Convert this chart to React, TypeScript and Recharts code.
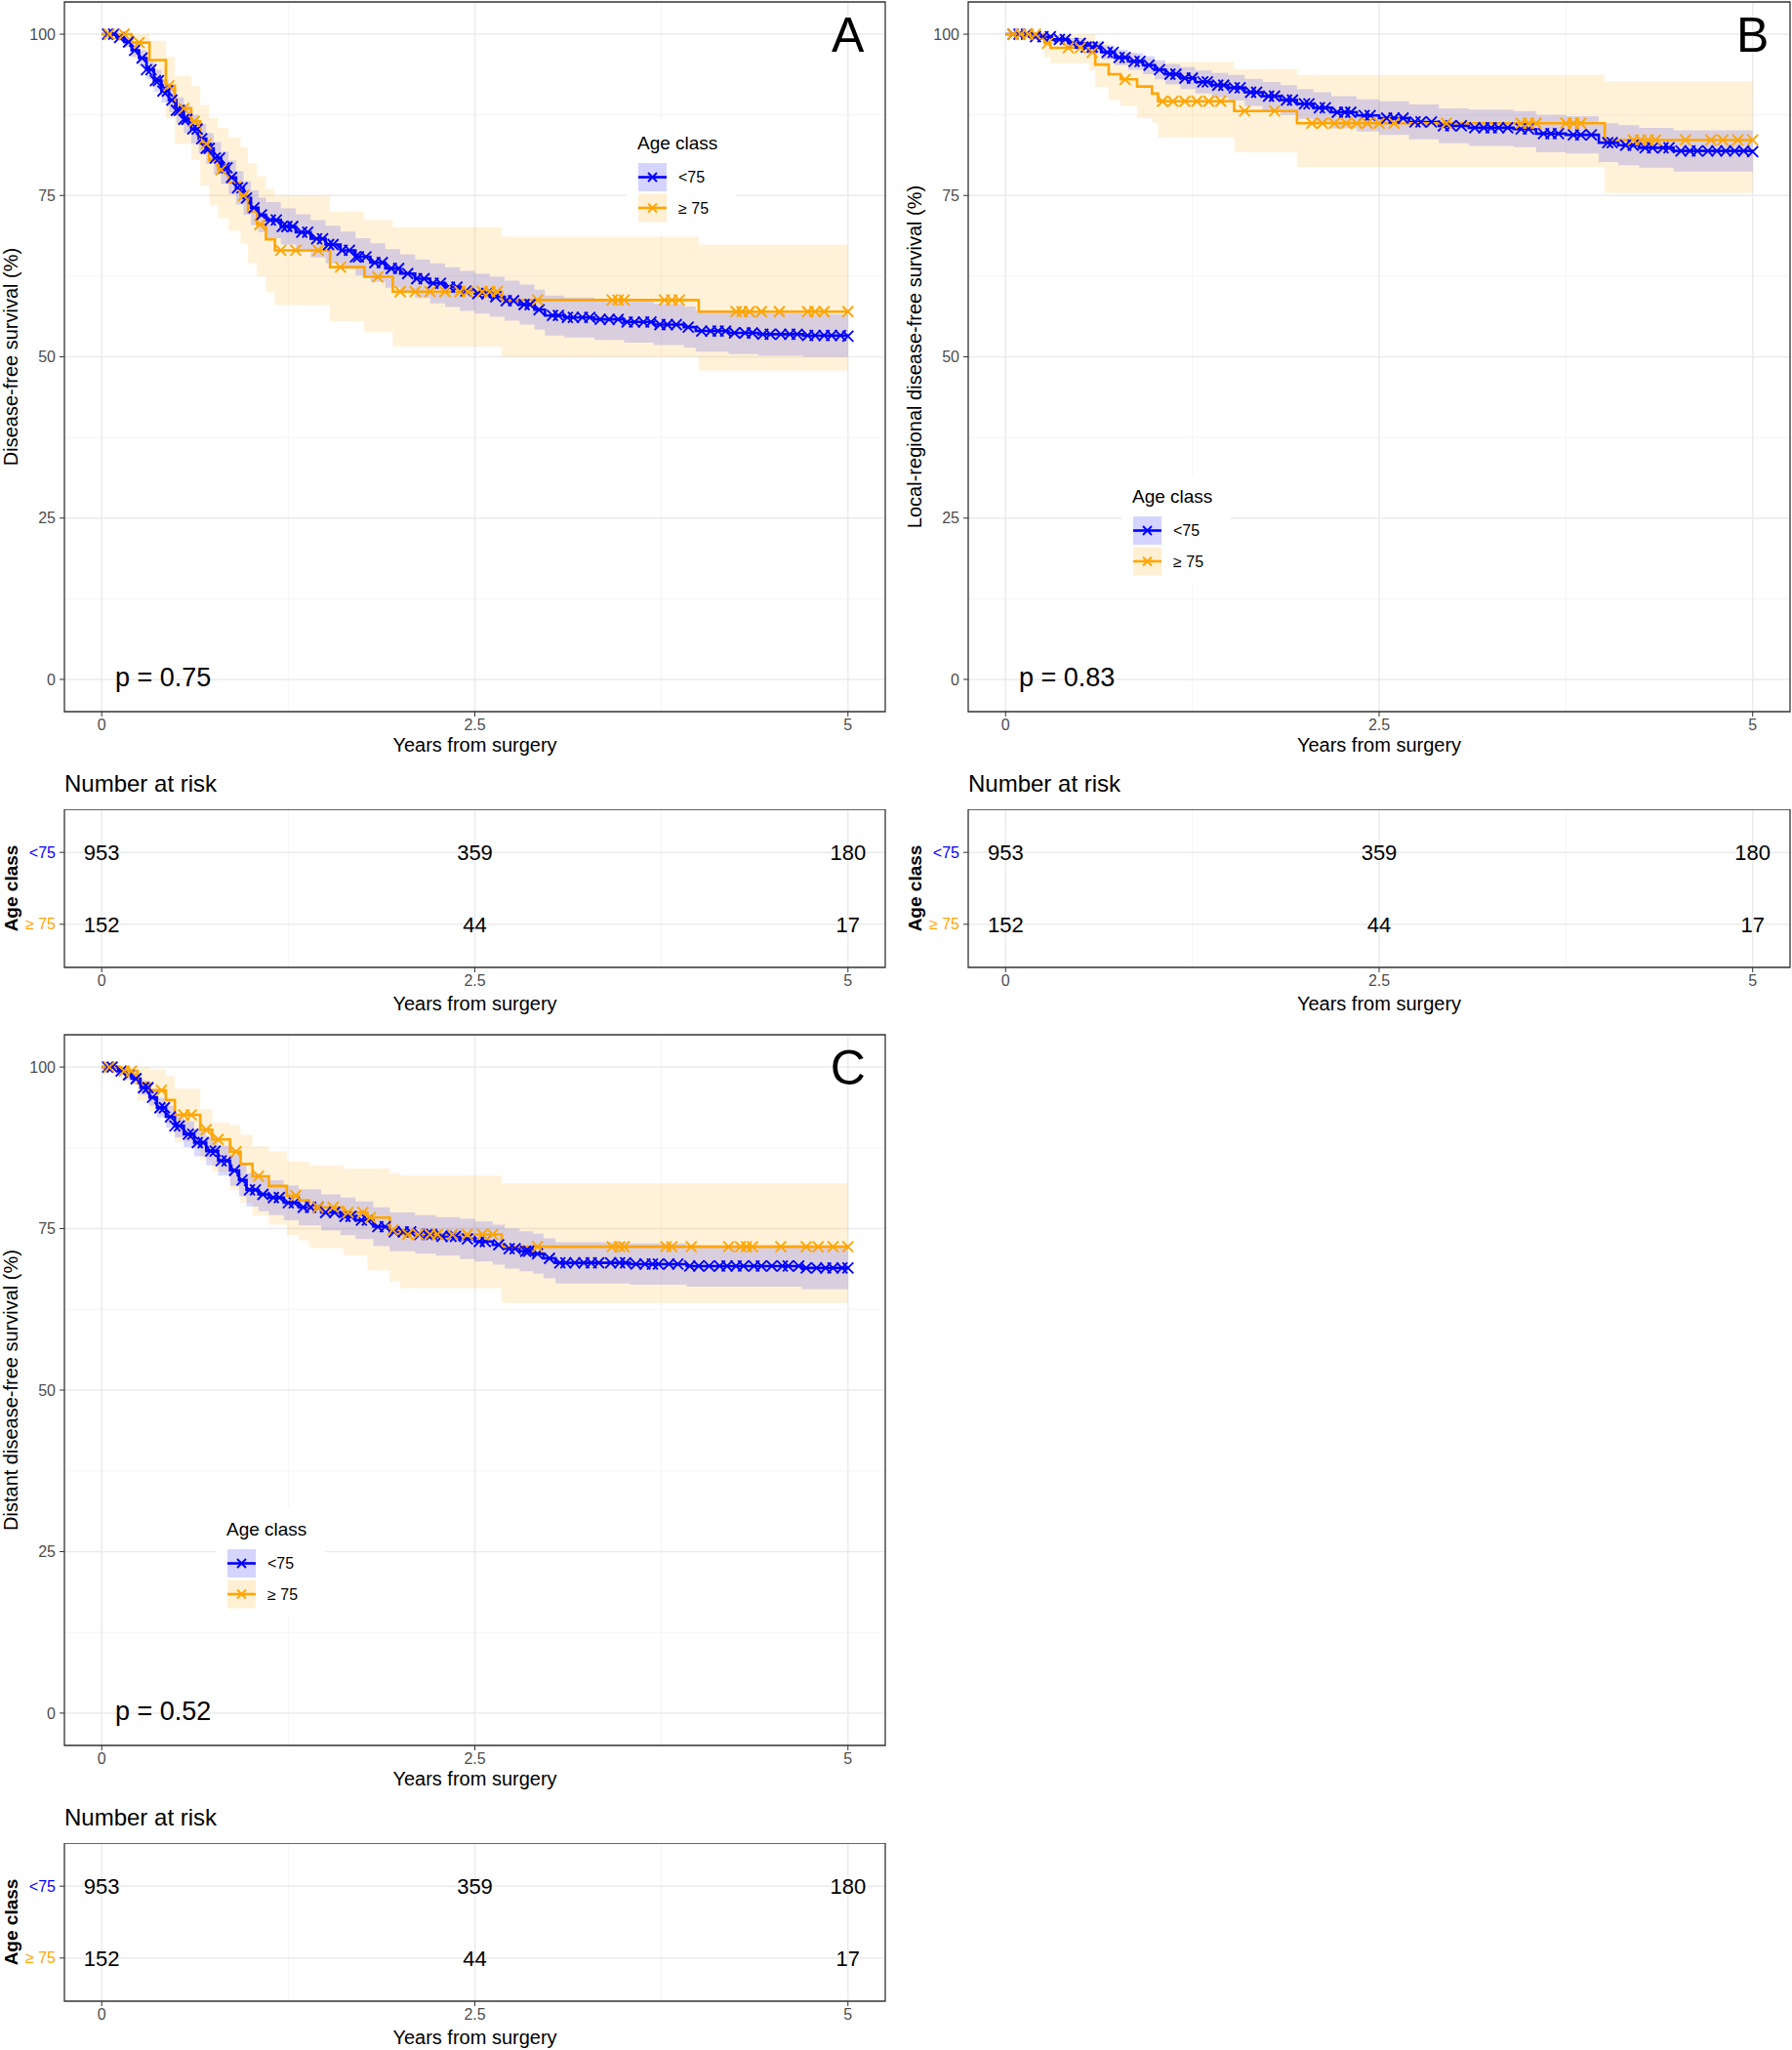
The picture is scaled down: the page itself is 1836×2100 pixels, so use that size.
import {
  ComposedChart,
  Area,
  Line,
  Scatter,
  XAxis,
  YAxis,
  CartesianGrid,
  ReferenceArea,
  ReferenceDot,
  Legend,
} from 'recharts'

// [time (years), survival %, lower CI, upper CI]
type Step = [number, number, number, number]

const BLUE = '#0000FF'
const ORANGE = '#FFA500'
const FONT = '"Liberation Sans", Arial, Helvetica, sans-serif'

const groups = ['<75', '≥ 75']
const xTicks = [0, 2.5, 5]
const xMinor = [1.25, 3.75]
const yTicks = [0, 25, 50, 75, 100]
const yMinor = [12.5, 37.5, 62.5, 87.5]

const riskTimes = [0, 2.5, 5]
const riskYoung = [953, 359, 180]
const riskOld = [152, 44, 17]

// A - disease-free survival
const dfsYoung: Step[] = [
  [0, 100, 100, 100], [0.1, 99.5, 99.0, 100], [0.15, 98.8, 98.0, 99.5], [0.2, 97.5, 96.5, 98.5],
  [0.25, 96.3, 95.0, 97.5], [0.3, 94.5, 93.0, 96.0], [0.35, 92.8, 91.1, 94.5], [0.4, 91.2, 89.4, 93.0],
  [0.45, 89.8, 87.9, 91.7], [0.5, 88.2, 86.2, 90.2], [0.55, 86.8, 84.7, 88.9], [0.6, 85.3, 83.1, 87.5],
  [0.65, 83.8, 81.5, 86.1], [0.7, 82.3, 79.9, 84.7], [0.75, 80.8, 78.3, 83.3], [0.8, 79.3, 76.8, 81.8],
  [0.85, 77.8, 75.2, 80.4], [0.9, 76.2, 73.6, 78.8], [0.95, 74.6, 72.0, 77.2], [1.0, 73.1, 70.4, 75.8],
  [1.05, 72.0, 69.3, 74.7], [1.1, 71.2, 68.4, 74.0], [1.2, 70.2, 67.4, 73.0], [1.3, 69.3, 66.5, 72.1],
  [1.4, 68.3, 65.4, 71.2], [1.5, 67.4, 64.5, 70.3], [1.6, 66.5, 63.6, 69.4], [1.7, 65.5, 62.6, 68.4],
  [1.8, 64.6, 61.6, 67.6], [1.9, 63.7, 60.7, 66.7], [2.0, 62.9, 59.9, 65.9], [2.1, 62.1, 59.1, 65.1],
  [2.2, 61.4, 58.3, 64.5], [2.3, 60.8, 57.7, 63.9], [2.4, 60.2, 57.1, 63.3], [2.5, 59.8, 56.7, 62.9],
  [2.6, 59.3, 56.2, 62.4], [2.7, 58.7, 55.6, 61.8], [2.8, 58.1, 55.0, 61.2], [2.9, 57.3, 54.2, 60.4],
  [2.97, 56.4, 53.3, 59.5], [3.1, 56.1, 53.0, 59.2], [3.3, 55.8, 52.6, 59.0], [3.5, 55.4, 52.2, 58.6],
  [3.7, 55.0, 51.8, 58.2], [3.9, 54.6, 51.4, 57.8], [3.98, 54.0, 50.8, 57.2], [4.2, 53.7, 50.4, 57.0],
  [4.4, 53.5, 50.2, 56.8], [4.7, 53.3, 50.0, 56.6], [5.0, 53.2, 49.9, 56.5],
]
const dfsOld: Step[] = [
  [0, 100, 100, 100], [0.2, 98.7, 96.2, 100], [0.32, 96.0, 92.2, 99.0], [0.43, 92.0, 87.0, 96.5],
  [0.49, 88.5, 83.0, 93.5], [0.6, 86.5, 80.5, 92.0], [0.66, 83.0, 76.5, 89.0], [0.72, 80.5, 73.5, 87.0],
  [0.78, 79.0, 71.5, 85.5], [0.85, 77.0, 69.5, 84.0], [0.93, 75.0, 67.5, 82.5], [0.98, 72.5, 64.5, 80.0],
  [1.04, 70.5, 62.5, 78.0], [1.1, 68.2, 60.0, 76.0], [1.16, 66.5, 58.0, 75.0], [1.53, 63.9, 55.5, 72.5],
  [1.76, 62.4, 53.8, 71.2], [1.95, 60.1, 51.6, 70.1], [2.68, 58.8, 50.0, 68.6], [4.0, 57.0, 47.9, 67.4],
  [5.0, 57.0, 47.9, 67.4],
]
const dfsYoungCens = [
  0.04, 0.08, 0.12, 0.18, 0.22, 0.27, 0.3, 0.33, 0.36, 0.38, 0.41, 0.44, 0.47, 0.5, 0.52, 0.55, 0.57,
  0.61, 0.64, 0.67, 0.7, 0.72, 0.76, 0.79, 0.82, 0.84, 0.87, 0.91, 0.94, 0.97, 1.02, 1.07, 1.13, 1.17,
  1.21, 1.24, 1.28, 1.34, 1.38, 1.44, 1.48, 1.52, 1.55, 1.61, 1.66, 1.7, 1.72, 1.77, 1.83, 1.88, 1.94,
  1.99, 2.05, 2.11, 2.16, 2.22, 2.27, 2.33, 2.38, 2.44, 2.52, 2.58, 2.64, 2.71, 2.76, 2.83, 2.87, 2.93,
  3.02, 3.06, 3.12, 3.16, 3.22, 3.27, 3.34, 3.4, 3.46, 3.52, 3.57, 3.63, 3.68, 3.74, 3.79, 3.85, 3.93,
  4.02, 4.08, 4.13, 4.18, 4.24, 4.31, 4.36, 4.43, 4.48, 4.55, 4.61, 4.66, 4.73, 4.78, 4.84, 4.89, 4.95,
  5.0,
]
const dfsOldCens = [
  0.05, 0.15, 0.25, 0.45, 0.55, 0.62, 0.7, 0.8, 0.95, 1.06, 1.2, 1.3, 1.45, 1.6, 1.85, 2.0, 2.1, 2.2,
  2.3, 2.4, 2.45, 2.55, 2.6, 2.65, 2.92, 3.42, 3.46, 3.5, 3.77, 3.82, 3.87, 4.25, 4.29, 4.34, 4.42, 4.54,
  4.73, 4.78, 4.84, 5.0,
]

// B - local-regional disease-free survival
const lrfsYoung: Step[] = [
  [0, 100, 100, 100], [0.16, 99.6, 99.2, 100], [0.31, 99.2, 98.6, 99.8], [0.42, 98.6, 97.8, 99.4],
  [0.54, 98.0, 97.1, 98.9], [0.64, 97.2, 96.1, 98.3], [0.73, 96.4, 95.2, 97.6], [0.82, 95.8, 94.5, 97.1],
  [0.92, 95.2, 93.8, 96.6], [1.0, 94.5, 93.0, 96.0], [1.07, 93.8, 92.2, 95.4], [1.17, 93.2, 91.5, 94.9],
  [1.27, 92.6, 90.8, 94.4], [1.38, 92.1, 90.2, 94.0], [1.49, 91.7, 89.7, 93.7], [1.6, 91.0, 88.9, 93.1],
  [1.72, 90.4, 88.2, 92.6], [1.84, 89.8, 87.5, 92.1], [1.95, 89.2, 86.9, 91.5], [2.06, 88.6, 86.2, 91.0],
  [2.18, 87.9, 85.4, 90.4], [2.35, 87.4, 84.9, 89.9], [2.5, 87.0, 84.4, 89.6], [2.7, 86.4, 83.7, 89.1],
  [2.9, 85.8, 83.1, 88.5], [3.1, 85.5, 82.7, 88.3], [3.4, 85.3, 82.5, 88.1], [3.55, 84.6, 81.7, 87.5],
  [3.75, 84.4, 81.5, 87.3], [3.97, 83.2, 80.2, 86.2], [4.1, 82.8, 79.7, 85.9], [4.24, 82.4, 79.3, 85.5],
  [4.47, 81.9, 78.7, 85.1], [5.0, 81.8, 78.6, 85.0],
]
const lrfsOld: Step[] = [
  [0, 100, 100, 100], [0.26, 98.6, 96.5, 100], [0.3, 97.9, 95.5, 100], [0.56, 97.2, 94.4, 100],
  [0.6, 95.3, 91.8, 98.8], [0.69, 93.8, 89.8, 97.7], [0.77, 93.0, 88.9, 97.1], [0.88, 91.9, 87.0, 96.2],
  [0.98, 90.8, 86.3, 95.7], [1.02, 89.6, 84.0, 95.7], [1.53, 88.1, 81.7, 94.6], [1.95, 86.2, 79.4, 93.7],
  [4.01, 83.6, 75.4, 92.7], [5.0, 83.6, 75.4, 92.7],
]
const lrfsYoungCens = [
  0.05, 0.09, 0.14, 0.2, 0.25, 0.3, 0.36, 0.4, 0.45, 0.5, 0.54, 0.58, 0.62, 0.68, 0.72, 0.76, 0.8, 0.86,
  0.9, 0.96, 1.03, 1.1, 1.14, 1.2, 1.25, 1.32, 1.35, 1.42, 1.46, 1.53, 1.57, 1.64, 1.68, 1.76, 1.8, 1.88,
  1.92, 2.0, 2.03, 2.1, 2.14, 2.22, 2.27, 2.31, 2.4, 2.44, 2.55, 2.6, 2.66, 2.74, 2.78, 2.85, 2.93, 2.98,
  3.05, 3.14, 3.2, 3.25, 3.3, 3.36, 3.45, 3.5, 3.6, 3.65, 3.7, 3.8, 3.85, 3.92, 4.03, 4.06, 4.15, 4.2,
  4.28, 4.33, 4.4, 4.44, 4.52, 4.58, 4.63, 4.7, 4.76, 4.82, 4.88, 4.94, 5.0,
]
const lrfsOldCens = [
  0.05, 0.1, 0.15, 0.2, 0.28, 0.42, 0.5, 0.58, 0.8, 1.05, 1.12, 1.2, 1.28, 1.36, 1.44, 1.6, 1.8, 2.05,
  2.12, 2.2, 2.28, 2.35, 2.42, 2.5, 2.6, 2.95, 3.45, 3.5, 3.55, 3.75, 3.8, 3.85, 4.2, 4.25, 4.3, 4.35,
  4.55, 4.72, 4.8, 4.9, 5.0,
]

// C - distant disease-free survival
const ddfsYoung: Step[] = [
  [0, 100, 100, 100], [0.11, 99.4, 98.9, 99.9], [0.16, 98.8, 98.1, 99.5], [0.2, 98.2, 97.3, 99.1],
  [0.26, 96.8, 95.7, 97.9], [0.32, 95.3, 94.0, 96.6], [0.37, 93.7, 92.2, 95.2], [0.43, 92.3, 90.6, 94.0],
  [0.49, 90.9, 89.1, 92.7], [0.55, 89.6, 87.6, 91.6], [0.62, 88.3, 86.2, 90.4], [0.7, 87.0, 84.8, 89.2],
  [0.78, 85.5, 83.2, 87.8], [0.86, 84.0, 81.6, 86.4], [0.92, 82.5, 80.0, 85.0], [0.97, 81.0, 78.4, 83.6],
  [1.05, 80.3, 77.7, 82.9], [1.12, 79.8, 77.1, 82.5], [1.22, 79.0, 76.3, 81.7], [1.32, 78.3, 75.5, 81.1],
  [1.47, 77.5, 74.7, 80.3], [1.6, 76.9, 74.0, 79.8], [1.7, 76.3, 73.4, 79.2], [1.82, 75.3, 72.3, 78.3],
  [1.93, 74.5, 71.5, 77.5], [2.1, 74.1, 71.1, 77.1], [2.24, 73.8, 70.8, 76.8], [2.4, 73.4, 70.3, 76.5],
  [2.5, 73.0, 69.9, 76.1], [2.62, 72.5, 69.4, 75.6], [2.7, 71.9, 68.8, 75.0], [2.8, 71.5, 68.4, 74.6],
  [2.89, 71.1, 68.0, 74.2], [2.96, 70.4, 67.3, 73.5], [3.04, 69.7, 66.5, 72.9], [3.54, 69.5, 66.3, 72.7],
  [3.92, 69.2, 66.0, 72.4], [4.69, 68.9, 65.6, 72.2], [5.0, 68.9, 65.6, 72.2],
]
const ddfsOld: Step[] = [
  [0, 100, 100, 100], [0.13, 99.4, 97.8, 100], [0.24, 97.5, 94.8, 100], [0.32, 96.4, 93.2, 99.6],
  [0.43, 94.9, 91.2, 98.6], [0.49, 92.6, 88.4, 96.7], [0.66, 90.3, 85.6, 93.5], [0.74, 88.8, 83.8, 91.4],
  [0.86, 86.9, 81.0, 91.0], [0.93, 85.0, 79.0, 89.5], [1.01, 83.1, 77.0, 87.7], [1.12, 81.6, 75.6, 87.0],
  [1.24, 80.1, 74.0, 85.4], [1.32, 79.4, 73.2, 85.4], [1.39, 78.3, 72.0, 84.8], [1.62, 77.5, 70.8, 84.3],
  [1.78, 76.7, 68.5, 84.3], [1.93, 74.8, 66.8, 83.6], [2.0, 74.1, 65.8, 83.2], [2.68, 72.2, 63.5, 82.0],
  [5.0, 72.2, 63.5, 82.0],
]
const ddfsYoungCens = [
  0.04, 0.07, 0.13, 0.18, 0.23, 0.28, 0.31, 0.34, 0.39, 0.42, 0.46, 0.49, 0.52, 0.58, 0.61, 0.64, 0.68,
  0.73, 0.76, 0.8, 0.84, 0.89, 0.94, 0.99, 1.03, 1.08, 1.15, 1.19, 1.25, 1.29, 1.35, 1.4, 1.45, 1.5,
  1.56, 1.63, 1.67, 1.74, 1.78, 1.85, 1.9, 1.96, 2.02, 2.07, 2.13, 2.18, 2.21, 2.28, 2.34, 2.37, 2.45,
  2.53, 2.57, 2.66, 2.73, 2.77, 2.84, 2.86, 2.92, 3.0, 3.07, 3.11, 3.17, 3.23, 3.28, 3.33, 3.41, 3.47,
  3.51, 3.58, 3.64, 3.69, 3.73, 3.8, 3.86, 3.94, 4.0, 4.07, 4.14, 4.19, 4.25, 4.3, 4.37, 4.42, 4.49,
  4.56, 4.6, 4.67, 4.72, 4.79, 4.85, 4.9, 4.96, 5.0,
]
const ddfsOldCens = [
  0.05, 0.15, 0.2, 0.4, 0.55, 0.6, 0.7, 0.78, 0.9, 1.05, 1.3, 1.45, 1.55, 1.65, 1.75, 1.8, 1.95, 2.05,
  2.12, 2.2, 2.25, 2.35, 2.45, 2.55, 2.62, 2.92, 3.42, 3.47, 3.5, 3.78, 3.82, 3.95, 4.2, 4.28, 4.32,
  4.36, 4.55, 4.72, 4.8, 4.9, 5.0,
]

const toRows = (steps: Step[]) => steps.map(([t, s, lo, hi]) => ({ t, s, band: [lo, hi] }))

// survival value of the step curve at a censoring time
const survAt = (steps: Step[], t: number) => {
  let s = steps[0][1]
  for (const st of steps) if (st[0] <= t) s = st[1]
  return s
}
const toMarks = (steps: Step[], times: number[]) => times.map((t) => ({ t, s: survAt(steps, t) }))

function XMark({ cx, cy, color, h = 5.5 }: { cx: number; cy: number; color: string; h?: number }) {
  return (
    <path
      d={`M${cx - h},${cy - h}L${cx + h},${cy + h}M${cx - h},${cy + h}L${cx + h},${cy - h}`}
      stroke={color}
      strokeWidth={1.9}
      fill="none"
    />
  )
}

function XTitle(props: any) {
  const vb = props.viewBox
  if (!vb) return null
  return (
    <text
      x={vb.x + vb.width / 2}
      y={vb.y + props.gap}
      textAnchor="middle"
      fontSize={20}
      fontFamily={FONT}
      fill="#000"
    >
      {props.text}
    </text>
  )
}

function YTitle(props: any) {
  const vb = props.viewBox
  if (!vb) return null
  const x = vb.x + 18
  const y = vb.y + vb.height / 2
  return (
    <text
      x={x}
      y={y}
      transform={`rotate(-90, ${x}, ${y})`}
      textAnchor="middle"
      fontSize={props.size ?? 20}
      fontWeight={props.bold ? 'bold' : 'normal'}
      fontFamily={FONT}
      fill="#000"
    >
      {props.text}
    </text>
  )
}

function Tag(props: any) {
  const vb = props.viewBox
  if (!vb) return null
  return (
    <text x={vb.x + vb.width / 2} y={vb.y + vb.height / 2 + 18} textAnchor="middle" fontSize={50} fontFamily={FONT} fill="#000">
      {props.text}
    </text>
  )
}

function PVal(props: any) {
  const vb = props.viewBox
  if (!vb) return null
  return (
    <text x={vb.x} y={vb.y + vb.height / 2 + 7} textAnchor="start" fontSize={27} fontFamily={FONT} fill="#000">
      {props.text}
    </text>
  )
}

function AgeLegend() {
  return (
    <svg width={112} height={112} style={{ display: 'block' }}>
      <rect x={0} y={0} width={112} height={112} fill="#fff" />
      <text x={11} y={28} fontSize={19} fontFamily={FONT} fill="#000">
        Age class
      </text>
      {groups.map((g, i) => {
        const y0 = 42 + i * 31.5
        const c = i === 0 ? BLUE : ORANGE
        return (
          <g key={g}>
            <rect x={12} y={y0} width={29} height={29} fill={c} fillOpacity={0.17} />
            <line x1={12} x2={41} y1={y0 + 14.5} y2={y0 + 14.5} stroke={c} strokeWidth={2.6} />
            <XMark cx={26.5} cy={y0 + 14.5} color={c} h={4.5} />
            <text x={53} y={y0 + 14.5} dy="0.35em" fontSize={16} fontFamily={FONT} fill="#000">
              {g}
            </text>
          </g>
        )
      })}
    </svg>
  )
}

const tickStyle = { fontSize: 16, fill: '#4d4d4d', fontFamily: FONT }

type PanelProps = {
  left: number
  top: number
  width: number
  rightM: number
  plotH: number
  yTitle: string
  tag: string
  pval: string
  young: Step[]
  old: Step[]
  youngCens: number[]
  oldCens: number[]
  legendAt: { left: number; top: number }
}

function KMPanel(p: PanelProps) {
  const youngRows = toRows(p.young)
  const oldRows = toRows(p.old)
  return (
    <div style={{ position: 'absolute', left: p.left, top: p.top }}>
      <ComposedChart
        width={p.width}
        height={2 + p.plotH + 58}
        margin={{ top: 2, right: p.rightM, bottom: 0, left: 0 }}
      >
        <CartesianGrid horizontalValues={yMinor} verticalValues={xMinor} stroke="#f3f3f3" strokeWidth={0.9} />
        <CartesianGrid horizontalValues={yTicks} verticalValues={xTicks} stroke="#ebebeb" strokeWidth={1.5} />
        <XAxis
          type="number"
          dataKey="t"
          domain={[-0.25, 5.25]}
          ticks={xTicks}
          allowDataOverflow
          axisLine={false}
          tickLine={{ stroke: '#333' }}
          tickSize={5}
          tickMargin={3}
          tick={tickStyle}
          height={58}
          label={<XTitle text="Years from surgery" gap={41} />}
        />
        <YAxis
          type="number"
          domain={[-5, 105]}
          ticks={yTicks}
          allowDataOverflow
          axisLine={false}
          tickLine={{ stroke: '#333' }}
          tickSize={5}
          tickMargin={4}
          tick={tickStyle}
          width={66}
          label={<YTitle text={p.yTitle} />}
        />
        <Area data={oldRows} dataKey="band" type="stepAfter" fill={ORANGE} fillOpacity={0.15} stroke="none" isAnimationActive={false} />
        <Area data={youngRows} dataKey="band" type="stepAfter" fill={BLUE} fillOpacity={0.15} stroke="none" isAnimationActive={false} />
        <Line data={youngRows} dataKey="s" type="stepAfter" stroke={BLUE} strokeWidth={2.6} dot={false} isAnimationActive={false} />
        <Line data={oldRows} dataKey="s" type="stepAfter" stroke={ORANGE} strokeWidth={2.6} dot={false} isAnimationActive={false} />
        <Scatter
          data={toMarks(p.young, p.youngCens)}
          dataKey="s"
          isAnimationActive={false}
          shape={(s: any) => <XMark cx={s.cx} cy={s.cy} color={BLUE} />}
        />
        <Scatter
          data={toMarks(p.old, p.oldCens)}
          dataKey="s"
          isAnimationActive={false}
          shape={(s: any) => <XMark cx={s.cx} cy={s.cy} color={ORANGE} />}
        />
        <ReferenceArea x1={-0.25} x2={5.25} y1={-5} y2={105} fill="none" stroke="#333" strokeWidth={1.3} />
        <ReferenceDot x={5} y={100} r={0} fill="none" stroke="none" label={<Tag text={p.tag} />} />
        <ReferenceDot x={0.09} y={0} r={0} fill="none" stroke="none" label={<PVal text={p.pval} />} />
        <Legend
          layout="horizontal"
          verticalAlign="middle"
          align="center"
          wrapperStyle={{ left: p.legendAt.left, top: p.legendAt.top, width: 112, height: 112 }}
          content={() => <AgeLegend />}
        />
      </ComposedChart>
    </div>
  )
}

function GroupTick(props: any) {
  const { x, y, payload } = props
  const i = Math.round(payload.value) - 1
  return (
    <text x={x} y={y} dy="0.35em" textAnchor="end" fontSize={16} fontFamily={FONT} fill={i === 0 ? BLUE : ORANGE}>
      {groups[i]}
    </text>
  )
}

function NumberCell(props: any) {
  return (
    <text x={props.cx} y={props.cy} dy="0.36em" textAnchor="middle" fontSize={22} fontFamily={FONT} fill="#000">
      {props.payload.n}
    </text>
  )
}

function RiskTable({ left, top, width, rightM }: { left: number; top: number; width: number; rightM: number }) {
  const cells = riskTimes.flatMap((t, i) => [
    { t, row: 1, n: riskYoung[i] },
    { t, row: 2, n: riskOld[i] },
  ])
  return (
    <>
      <div
        style={{
          position: 'absolute',
          left: left + 66,
          top: top - 38,
          fontSize: 24,
          lineHeight: '24px',
          fontFamily: FONT,
          color: '#000',
          whiteSpace: 'nowrap',
        }}
      >
        Number at risk
      </div>
      <div style={{ position: 'absolute', left, top }}>
        <ComposedChart width={width} height={162 + 58} margin={{ top: 0, right: rightM, bottom: 0, left: 0 }}>
          <CartesianGrid horizontal={false} verticalValues={xMinor} stroke="#f3f3f3" strokeWidth={0.9} />
          <CartesianGrid horizontalValues={[1, 2]} verticalValues={xTicks} stroke="#ebebeb" strokeWidth={1.5} />
          <XAxis
            type="number"
            dataKey="t"
            domain={[-0.25, 5.25]}
            ticks={xTicks}
            allowDataOverflow
            axisLine={false}
            tickLine={{ stroke: '#333' }}
            tickSize={5}
            tickMargin={3}
            tick={tickStyle}
            height={58}
            label={<XTitle text="Years from surgery" gap={44} />}
          />
          <YAxis
            type="number"
            domain={[0.4, 2.6]}
            ticks={[1, 2]}
            reversed
            allowDataOverflow
            axisLine={false}
            tickLine={{ stroke: '#333' }}
            tickSize={5}
            tickMargin={4}
            tick={<GroupTick />}
            width={66}
            label={<YTitle text="Age class" bold size={19} />}
          />
          <Scatter data={cells} dataKey="row" isAnimationActive={false} shape={NumberCell} />
          <ReferenceArea x1={-0.25} x2={5.25} y1={0.4} y2={2.6} fill="none" stroke="#333" strokeWidth={1.3} />
        </ComposedChart>
      </div>
    </>
  )
}

export default function App() {
  return (
    <div
      style={{
        position: 'absolute',
        left: 0,
        top: 0,
        width: 1836,
        height: 2100,
        background: '#fff',
        overflow: 'hidden',
        fontFamily: FONT,
      }}
    >
      <KMPanel
        left={0}
        top={0}
        width={912}
        rightM={5}
        plotH={727}
        yTitle="Disease-free survival (%)"
        tag="A"
        pval="p = 0.75"
        young={dfsYoung}
        old={dfsOld}
        youngCens={dfsYoungCens}
        oldCens={dfsOldCens}
        legendAt={{ left: 642, top: 125 }}
      />
      <KMPanel
        left={926}
        top={0}
        width={910}
        rightM={2}
        plotH={727}
        yTitle="Local-regional disease-free survival (%)"
        tag="B"
        pval="p = 0.83"
        young={lrfsYoung}
        old={lrfsOld}
        youngCens={lrfsYoungCens}
        oldCens={lrfsOldCens}
        legendAt={{ left: 223, top: 487 }}
      />
      <KMPanel
        left={0}
        top={1058}
        width={912}
        rightM={5}
        plotH={728}
        yTitle="Distant disease-free survival (%)"
        tag="C"
        pval="p = 0.52"
        young={ddfsYoung}
        old={ddfsOld}
        youngCens={ddfsYoungCens}
        oldCens={ddfsOldCens}
        legendAt={{ left: 221, top: 487 }}
      />
      <RiskTable left={0} top={829} width={912} rightM={5} />
      <RiskTable left={926} top={829} width={910} rightM={2} />
      <RiskTable left={0} top={1888} width={912} rightM={5} />
    </div>
  )
}
